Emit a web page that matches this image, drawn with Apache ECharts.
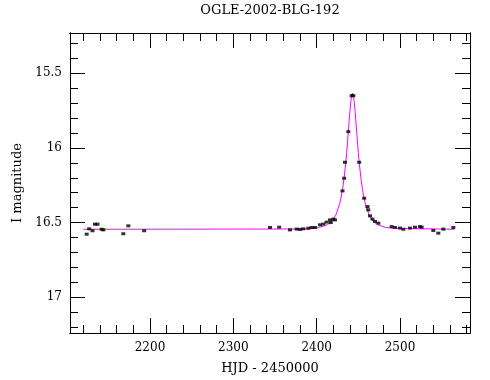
<!DOCTYPE html>
<html>
<head>
<meta charset="utf-8">
<script src="https://cdn.jsdelivr.net/npm/echarts@6/dist/echarts.min.js"></script>
<style>
	html, body { margin: 0; padding: 0; background: #fff; }
	#main { width: 490px; height: 380px; }
</style>
</head>
<body>
<div id="main"></div>
<script>
// 观测点 (HJD - 2450000, I mag)
var obsT = [2124, 2127, 2131, 2134, 2137, 2142, 2144, 2168, 2174, 2193,
	2344, 2355, 2368, 2376, 2380, 2384, 2390, 2394, 2398, 2404, 2408, 2412, 2416, 2417, 2420, 2422,
	2431, 2433, 2434, 2438, 2442, 2444, 2451, 2457, 2461, 2462, 2464, 2467, 2470, 2474,
	2490, 2494, 2500, 2504, 2512, 2518, 2524, 2526, 2540, 2546, 2552, 2564];
var obsMag = [16.578, 16.542, 16.555, 16.511, 16.511, 16.545, 16.549, 16.575, 16.522, 16.555,
	16.533, 16.531, 16.549, 16.544, 16.546, 16.542, 16.538, 16.533, 16.533, 16.515, 16.51, 16.497, 16.482, 16.50, 16.477, 16.482,
	16.288, 16.203, 16.096, 15.891, 15.650, 15.650, 16.096, 16.337, 16.393, 16.415, 16.455, 16.477, 16.493, 16.504,
	16.527, 16.533, 16.537, 16.545, 16.537, 16.531, 16.527, 16.531, 16.553, 16.571, 16.544, 16.533];

// 拟合曲线
var fitT = [2120, 2390, 2403, 2413, 2418, 2423, 2428, 2431, 2433, 2435, 2436, 2437, 2439, 2440, 2441, 2442, 2443,
	2444, 2445, 2446, 2447, 2449, 2450, 2451, 2453, 2455, 2458, 2463, 2468, 2473, 2483, 2493, 2565];
var fitMag = [16.545, 16.543, 16.533, 16.514, 16.492, 16.45, 16.367, 16.28, 16.198, 16.093, 16.031, 15.964, 15.818, 15.748, 15.688, 15.647, 15.632,
	15.647, 15.688, 15.748, 15.818, 15.964, 16.031, 16.093, 16.198, 16.28, 16.367, 16.45, 16.492, 16.514, 16.533, 16.539, 16.545];

// 刻度
var xMajor = [2200, 2300, 2400, 2500];
var xMinor = [2120, 2140, 2160, 2180, 2220, 2240, 2260, 2280, 2320, 2340, 2360, 2380,
	2420, 2440, 2460, 2480, 2520, 2540, 2560, 2580];
var yMajor = [15.5, 16, 16.5, 17];
var yMinor = [15.3, 15.4, 15.6, 15.7, 15.8, 15.9, 16.1, 16.2, 16.3, 16.4,
	16.6, 16.7, 16.8, 16.9, 17.1, 17.2];

var font = 'DejaVu Serif';

function zip(a, b) {
	var out = [];
	for(var i = 0; i < a.length; i++) {
		out.push([a[i], b[i]]);
	}
	return out;
}

function plain(v) {
	return String(v);
}

function xAxisOf(pos, ticks, len, labels) {
	return {
		type: 'value',
		position: pos,
		min: 2104,
		max: 2584,
		axisLine: { show: true, onZero: false, lineStyle: { color: '#000', width: 1 } },
		axisTick: { show: true, inside: true, length: len, customValues: ticks, lineStyle: { color: '#000', width: 1 } },
		axisLabel: labels ? { show: true, customValues: ticks, formatter: plain, margin: 9, color: '#000', fontFamily: font, fontSize: 12 } : { show: false },
		splitLine: { show: false },
		name: labels ? 'HJD - 2450000' : '',
		nameLocation: 'middle',
		nameGap: 29,
		nameTextStyle: { color: '#000', fontFamily: font, fontSize: 13 }
	};
}

function yAxisOf(pos, ticks, len, labels) {
	return {
		type: 'value',
		position: pos,
		inverse: true,
		min: 15.23,
		max: 17.24,
		axisLine: { show: true, onZero: false, lineStyle: { color: '#000', width: 1 } },
		axisTick: { show: true, inside: true, length: len, customValues: ticks, lineStyle: { color: '#000', width: 1 } },
		axisLabel: labels ? { show: true, customValues: ticks, formatter: plain, margin: 8, color: '#000', fontFamily: font, fontSize: 12 } : { show: false },
		splitLine: { show: false },
		name: labels ? 'I magnitude' : '',
		nameLocation: 'middle',
		nameGap: 46,
		nameTextStyle: { color: '#000', fontFamily: font, fontSize: 13 }
	};
}

var chart = echarts.init(document.getElementById('main'));

var option = {
	animation: false,
	backgroundColor: '#fff',
	title: {
		text: 'OGLE-2002-BLG-192',
		left: 270,
		top: 4,
		padding: 0,
		textAlign: 'center',
		textStyle: { color: '#000', fontFamily: font, fontSize: 13, fontWeight: 'normal' }
	},
	grid: { left: 70, right: 20, top: 33, bottom: 47 },
	xAxis: [
		xAxisOf('bottom', xMajor, 15, true),
		xAxisOf('bottom', xMinor, 8, false),
		xAxisOf('top', xMajor, 15, false),
		xAxisOf('top', xMinor, 8, false)
	],
	yAxis: [
		yAxisOf('left', yMajor, 15, true),
		yAxisOf('left', yMinor, 8, false),
		yAxisOf('right', yMajor, 15, false),
		yAxisOf('right', yMinor, 8, false)
	],
	series: [{
		name: 'fit',
		type: 'line',
		data: zip(fitT, fitMag),
		showSymbol: false,
		symbol: 'none',
		lineStyle: { color: '#ff00ff', width: 1 },
		z: 2
	}, {
		name: 'obs',
		type: 'scatter',
		data: zip(obsT, obsMag),
		symbol: 'rect',
		symbolSize: [4, 3],
		itemStyle: { color: '#000' },
		z: 3
	}]
};

chart.setOption(option);
</script>
</body>
</html>
